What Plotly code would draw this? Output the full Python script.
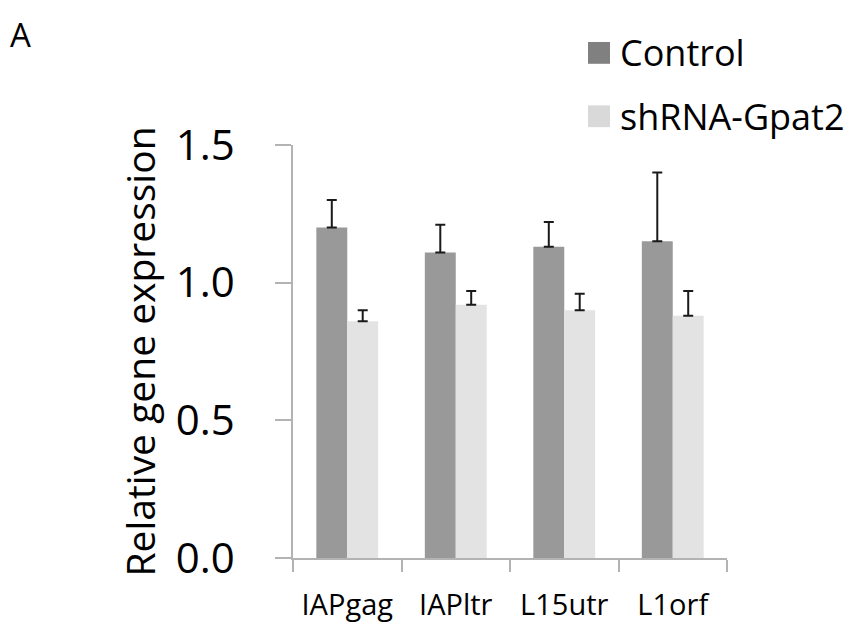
import plotly.graph_objects as go

categories = ["IAPgag", "IAPltr", "L15utr", "L1orf"]
control = [1.20, 1.11, 1.13, 1.15]
control_err = [0.10, 0.10, 0.09, 0.25]
shrna = [0.86, 0.92, 0.90, 0.88]
shrna_err = [0.04, 0.05, 0.06, 0.09]
series_names = ["Control", "shRNA-Gpat2"]
y_ticks = [0.0, 0.5, 1.0, 1.5]
y_tick_labels = ["0.0", "0.5", "1.0", "1.5"]

FONT = "Open Sans"
C1 = "#999999"
C2 = "#e3e3e3"

fig = go.Figure()
for name, vals, errs, col in [(series_names[0], control, control_err, C1),
                              (series_names[1], shrna, shrna_err, C2)]:
    fig.add_trace(go.Bar(
        x=categories, y=vals, name=name, marker=dict(color=col, line=dict(width=0)),
        error_y=dict(type="data", array=errs, arrayminus=[0] * len(errs), symmetric=False,
                     color="#1a1a1a", thickness=2, width=5),
        showlegend=False,
    ))

fig.update_layout(
    width=851, height=635,
    margin=dict(l=293, r=124, t=145, b=73),
    paper_bgcolor="white", plot_bgcolor="white",
    barmode="group", bargap=0.43, bargroupgap=0,
    font=dict(family=FONT, color="black"),
    xaxis=dict(showline=True, linecolor="#b3b3b3", linewidth=1.5,
               ticks="outside", ticklen=12, tickcolor="#b3b3b3", tickwidth=1.5,
               tickson="boundaries", showgrid=False, ticklabelstandoff=20,
               tickfont=dict(size=29, family=FONT)),
    yaxis=dict(range=[0, 1.5], tickvals=y_ticks, ticktext=y_tick_labels,
               showline=True, linecolor="#b3b3b3", linewidth=1.5,
               ticks="outside", ticklen=16, tickcolor="#b3b3b3", tickwidth=1.5,
               showgrid=False, zeroline=False, ticklabelstandoff=32,
               tickfont=dict(size=42, family=FONT),
               title=dict(text="Relative gene expression", font=dict(size=39, family=FONT), standoff=8)),
)

# manual legend
legend_items = [(series_names[0], "#808080", 52), (series_names[1], "#d9d9d9", 116)]
for name, col, yc in legend_items:
    fig.add_shape(type="rect", xref="paper", yref="paper",
                  x0=(588 - 293) / 434, x1=(610 - 293) / 434,
                  y0=(562 - (yc + 11)) / 417, y1=(562 - (yc - 11)) / 417,
                  fillcolor=col, line=dict(width=0))
    fig.add_annotation(xref="paper", yref="paper", x=(618 - 293) / 434, y=(562 - yc) / 417,
                       text=name, showarrow=False, xanchor="left", yanchor="middle",
                       font=dict(size=36, family=FONT, color="black"))

fig.add_annotation(xref="paper", yref="paper", x=(8 - 293) / 434, y=(562 - 33) / 417,
                   text="A", showarrow=False, xanchor="left", yanchor="middle",
                   font=dict(size=33, family=FONT, color="black"))

fig.write_html("out.html")
